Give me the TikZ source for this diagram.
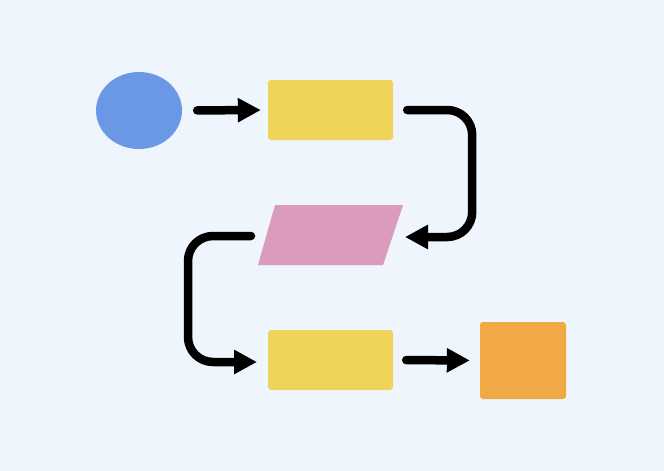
\documentclass[tikz,border=0pt]{standalone}
\usetikzlibrary{arrows.meta,shapes.geometric}
\definecolor{bg}{HTML}{EEF5FC}
\definecolor{cblue}{HTML}{6A98E4}
\definecolor{cyellow}{HTML}{EFD459}
\definecolor{cpink}{HTML}{DA9BBC}
\definecolor{corange}{HTML}{F0A945}
\tikzset{
  conn/.style={line width=8.5pt, line cap=round, line join=round,
    -{Triangle[length=23pt,width=23pt]}, shorten <=0pt},
  boxy/.style={fill=cyellow, rounded corners=3pt, inner sep=0pt, minimum width=125pt, minimum height=60pt},
}
\begin{document}
\begin{tikzpicture}[x=1pt,y=-1pt]
\fill[bg] (0,0) rectangle (664,471);
\useasboundingbox (0,0) rectangle (664,471);
\node[ellipse, fill=cblue, inner sep=0pt, minimum width=86pt, minimum height=77pt] (e) at (139,110.5) {};
\node[boxy] (r1) at (330.5,110) {};
\fill[cpink] (275,205) -- (403,205) -- (383,265) -- (258,265) -- cycle;
\coordinate (p) at (330.5,235);
\node[boxy] (r2) at (330.5,360) {};
\node[fill=corange, rounded corners=3pt, inner sep=0pt, minimum width=86pt, minimum height=77pt] (sq) at (523,360.5) {};
\coordinate (pin) at (405,237);
\coordinate (pout) at (251,236);
\coordinate (r2in) at (257,362);
\draw[conn, shorten <=15pt, shorten >=7pt] (e.east) -- (r1.west);
\draw[conn, rounded corners=25pt] ([xshift=14pt]r1.east) -- ++(65,0) |- (pin);
\draw[conn, rounded corners=25pt] (pout) -- ++(-63,0) |- (r2in);
\draw[conn, shorten <=13pt, shorten >=10pt] (r2.east) -- (sq.west);
\end{tikzpicture}
\end{document}
